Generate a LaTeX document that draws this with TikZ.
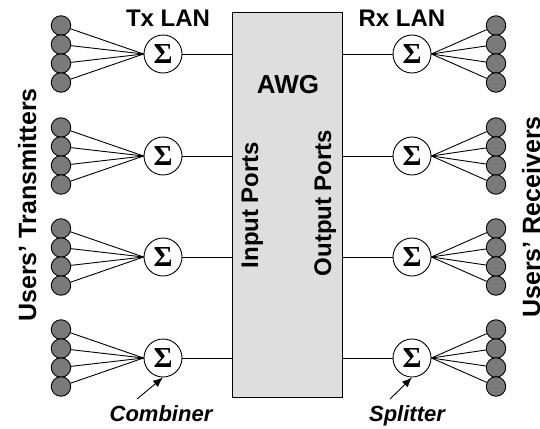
\documentclass[tikz,border=0pt]{standalone}
\usepackage{fontspec}
\setmainfont{Liberation Sans}
\newfontfamily\sigmafont{Liberation Serif}
\usetikzlibrary{arrows.meta}

\begin{document}
\begin{tikzpicture}[x=1pt,y=-1pt,>={Latex[length=10pt,width=8pt]},line width=0.9pt,
  sum/.style={circle,draw,fill=white,minimum size=38pt,inner sep=0pt,
    font=\sigmafont\bfseries\fontsize{29}{29}\selectfont},
  user/.style={circle,draw,fill=black!52,minimum size=19.5pt,inner sep=0pt},
  lbl/.style={font=\bfseries\fontsize{24}{24}\selectfont,anchor=base},
  tag/.style={font=\bfseries\itshape\fontsize{22}{22}\selectfont,anchor=base}]
  \useasboundingbox (0,0) rectangle (540,428);

  \node[draw,fill=black!13,minimum width=110pt,minimum height=385pt,inner sep=0pt]
    (awg) at (287,204.5) {};
  \node[lbl,font=\bfseries\fontsize{26}{26}\selectfont] (awgname) at (288,93) {AWG};
  \node[lbl,rotate=90] (inp) at (258,205) {Input Ports};
  \node[lbl,rotate=90] (outp) at (331,203) {Output Ports};

  \node[lbl] (txlan) at (168,27) {Tx LAN};
  \node[lbl] (rxlan) at (402,27) {Rx LAN};
  \node[lbl,rotate=90,font=\bfseries\fontsize{25}{25}\selectfont] (txusers) at (36,205) {Users’ Transmitters};
  \node[lbl,rotate=90,font=\bfseries\fontsize{25}{25}\selectfont] (rxusers) at (540,217) {Users’ Receivers};

  \foreach \r/\y in {1/54,2/156,3/257,4/358} {
    \node[sum] (tx\r) at (163,\y) {Σ};
    \node[sum] (rx\r) at (412,\y) {Σ};
    \draw (tx\r) -- (tx\r -| awg.west);
    \draw (rx\r) -- (rx\r -| awg.east);
    \foreach \k in {1,...,4} {
      \node[user] (ut\r\k) at (61,{\y-28.5+19*(\k-1)}) {};
      \node[user] (ur\r\k) at (496,{\y-28.5+19*(\k-1)}) {};
      \draw (ut\r\k) -- (tx\r.west);
      \draw (rx\r.east) -- (ur\r\k);
    }
  }

  \node[tag] (comb) at (161,421) {Combiner};
  \node[tag] (split) at (407,421) {Splitter};
  \coordinate (combtail) at (137,399);
  \coordinate (splittail) at (390,399);
  \draw[->] (combtail) -- (tx4.south);
  \draw[->] (splittail) -- (rx4.south);
\end{tikzpicture}
\end{document}
